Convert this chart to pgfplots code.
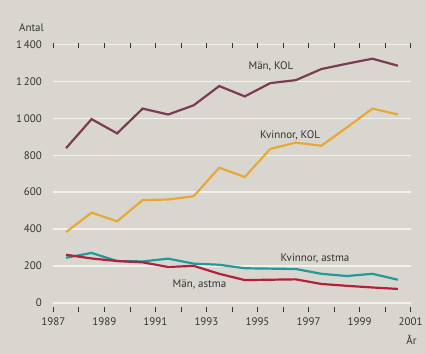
\documentclass[border=0pt]{standalone}
\usepackage{pgfplots}
\pgfplotsset{compat=1.18}
\usepackage{fontspec}
\setmainfont{PT Sans}
\definecolor{bg}{HTML}{D9D6D0}
\definecolor{gridc}{HTML}{F3F1EC}
\definecolor{menkol}{HTML}{7B3B52}
\definecolor{womkol}{HTML}{E8A838}
\definecolor{womast}{HTML}{1E9C9A}
\definecolor{menast}{HTML}{B3203C}
\definecolor{txt}{HTML}{333333}
\begin{document}
\begin{tikzpicture}[x=1bp,y=1bp]
\fill[bg] (0,0) rectangle (425,354);
\useasboundingbox (0,0) rectangle (425,354);
\begin{axis}[
  at={(53.3bp,51bp)}, anchor=origin,
  scale only axis, width=357.4bp, height=258.7bp,
  xmin=1987, xmax=2001, ymin=0, ymax=1400,
  axis line style={draw=none},
  ymajorgrids, grid style={gridc, line width=1.3bp},
  ytick={0,200,...,1400},
  xtick={1987,...,2001},
  xticklabels={1987,,1989,,1991,,1993,,1995,,1997,,1999,,2001},
  major y tick style={draw=none},
  major x tick style={txt, line width=0.7bp, yshift=-4bp},
  tick align=outside, major tick length=5bp,
  tick label style={font=\fontsize{11}{13}\selectfont, text=txt},
  xticklabel style={yshift=-6bp},
  yticklabel style={xshift=-3bp},
  /pgf/number format/.cd, 1000 sep={\,}, assume math mode=true,
]
\addplot[menkol, line width=2.2bp] coordinates {
(1987.5,838) (1988.5,995) (1989.5,918) (1990.5,1052) (1991.5,1020) (1992.5,1070) (1993.5,1174) (1994.5,1118) (1995.5,1190) (1996.5,1206) (1997.5,1266) (1998.5,1295) (1999.5,1322) (2000.5,1284)};
\addplot[womkol, line width=2.2bp] coordinates {
(1987.5,384) (1988.5,489) (1989.5,442) (1990.5,557) (1991.5,560) (1992.5,578) (1993.5,732) (1994.5,682) (1995.5,834) (1996.5,868) (1997.5,851) (1998.5,950) (1999.5,1052) (2000.5,1020)};
\addplot[womast, line width=2.2bp] coordinates {
(1987.5,245) (1988.5,271) (1989.5,227) (1990.5,225) (1991.5,240) (1992.5,213) (1993.5,207) (1994.5,188) (1995.5,186) (1996.5,184) (1997.5,158) (1998.5,146) (1999.5,158) (2000.5,126)};
\addplot[menast, line width=2.2bp] coordinates {
(1987.5,261) (1988.5,241) (1989.5,227) (1990.5,220) (1991.5,195) (1992.5,201) (1993.5,158) (1994.5,124) (1995.5,126) (1996.5,128) (1997.5,103) (1998.5,93) (1999.5,84) (2000.5,76)};
\end{axis}
\begin{scope}[every node/.style={text=txt, font=\fontsize{11}{13}\selectfont}]
\node at (271,288) {Män, KOL};
\node at (290,219) {Kvinnor, KOL};
\node at (315,95.3) {Kvinnor, astma};
\node at (199.5,69.7) {Män, astma};
\node at (31.5,326) {Antal};
\node at (411.5,13.7) {År};
\end{scope}
\end{tikzpicture}
\end{document}
